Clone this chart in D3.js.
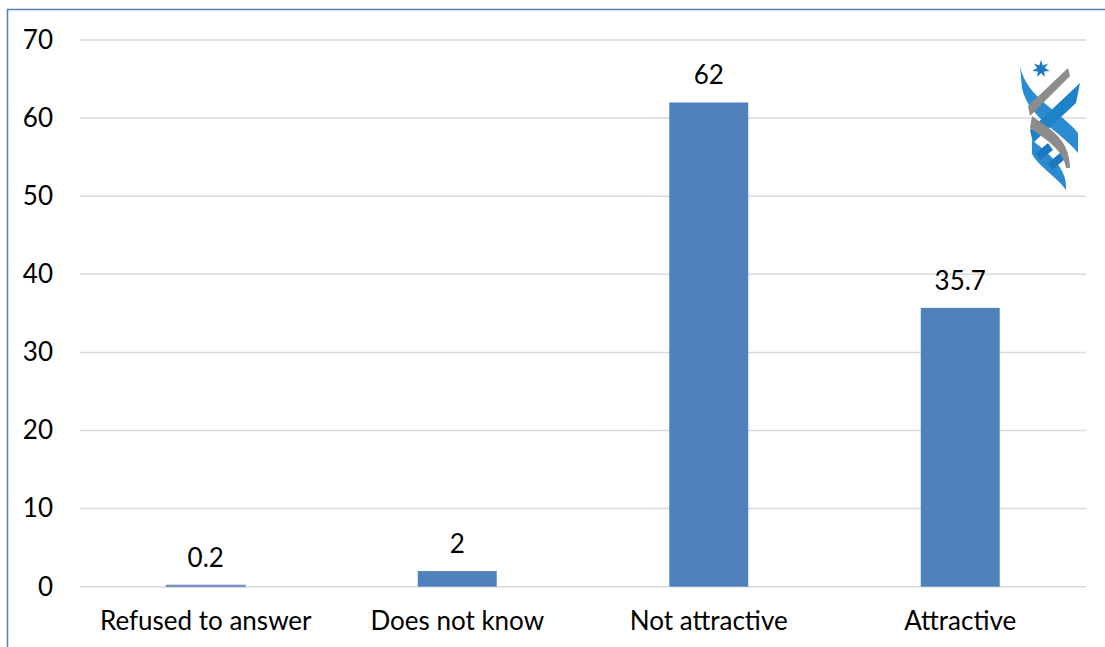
<!DOCTYPE html>
<html><head><meta charset="utf-8">
<script src="https://cdn.jsdelivr.net/npm/d3@7"></script>
<style>body{margin:0;background:#fff}svg{display:block}</style>
</head><body>
<script>
const categories = ["Refused to answer", "Does not know", "Not attractive", "Attractive"];
const values = [0.2, 2, 62, 35.7];
const labels = ["0.2", "2", "62", "35.7"];
const yTicks = [0, 10, 20, 30, 40, 50, 60, 70];

const W = 1105, H = 647;
const font = "Lato, 'Open Sans', sans-serif";
const fs = 26;
const svg = d3.select("body").append("svg").attr("width", W).attr("height", H);

svg.append("rect").attr("x", 7.5).attr("y", 9.5).attr("width", W + 20).attr("height", H + 20)
  .attr("fill", "none").attr("stroke", "#4f81bd").attr("stroke-width", 1.5);

const x = d3.scaleBand().domain(categories).range([80, 1086]).paddingInner(0.686).paddingOuter(0.343);
const y = d3.scaleLinear().domain([0, 70]).range([586.7, 40]);

const g = svg.append("g");
g.selectAll("line.grid").data(yTicks).join("line").attr("class", "grid")
  .attr("x1", 80).attr("x2", 1086).attr("y1", d => y(d)).attr("y2", d => y(d))
  .attr("stroke", "#d9d9d9").attr("stroke-width", 1.5);

const yAxis = d3.axisLeft(y).tickValues(yTicks).tickSize(0).tickPadding(0);
const ya = svg.append("g").attr("transform", "translate(53,0)").call(yAxis);
ya.select(".domain").remove();
ya.selectAll("text").attr("font-family", font).attr("font-size", fs).attr("fill", "#000");

const xAxis = d3.axisBottom(x).tickSize(0).tickPadding(0);
const xa = svg.append("g").attr("transform", "translate(0,612)").call(xAxis);
xa.select(".domain").remove();
xa.selectAll("text").attr("font-family", font).attr("font-size", fs).attr("fill", "#000").attr("dy", "0.71em");

g.selectAll("rect.bar").data(values).join("rect").attr("class", "bar")
  .attr("x", (d, i) => x(categories[i])).attr("width", x.bandwidth())
  .attr("y", d => y(d)).attr("height", d => y(0) - y(d))
  .attr("fill", "#4f81bd").attr("stroke", d => d < 1 ? "#8097c8" : "none").attr("stroke-width", 1);

g.selectAll("text.lbl").data(values).join("text").attr("class", "lbl")
  .attr("x", (d, i) => x(categories[i]) + x.bandwidth() / 2)
  .attr("y", d => y(d) - 18)
  .attr("text-anchor", "middle").attr("font-family", font).attr("font-size", fs).attr("fill", "#000")
  .text((d, i) => labels[i]);

// logo (decorative)
const logo = svg.append("g").attr("transform", "translate(1018,58)");
const star = d3.range(14).map(i => { const r = i % 2 ? 4 : 9; const a = Math.PI * i / 7 - Math.PI / 2; return [23 + r * Math.cos(a), 11 + r * Math.sin(a)]; });
logo.append("path").attr("d", d3.line()(star) + "Z").attr("fill", "#1e78c0");
logo.append("path").attr("d", "M2,8 C8,40 45,55 60,75 L60,95 C45,75 10,60 4,30 Z").attr("fill", "#2a8bd0");
logo.append("path").attr("d", "M50,10 L52,18 L12,58 L10,48 Z").attr("fill", "#8c8c8c");
logo.append("path").attr("d", "M62,25 L58,45 L15,85 L12,72 Z").attr("fill", "#1e82c8");
logo.append("path").attr("d", "M14,58 C30,70 52,80 52,110 L48,110 C45,90 25,80 12,70 Z").attr("fill", "#8c8c8c");
logo.append("path").attr("d", "M14,82 C30,95 50,110 48,132 C40,120 20,108 14,96 Z").attr("fill", "#2a8bd0");
logo.append("path").attr("d", "M18,95 L30,85 L35,92 L22,102 Z M30,105 L42,95 L46,102 L34,112 Z").attr("fill", "#1e78c0");
</script>
</body></html>
